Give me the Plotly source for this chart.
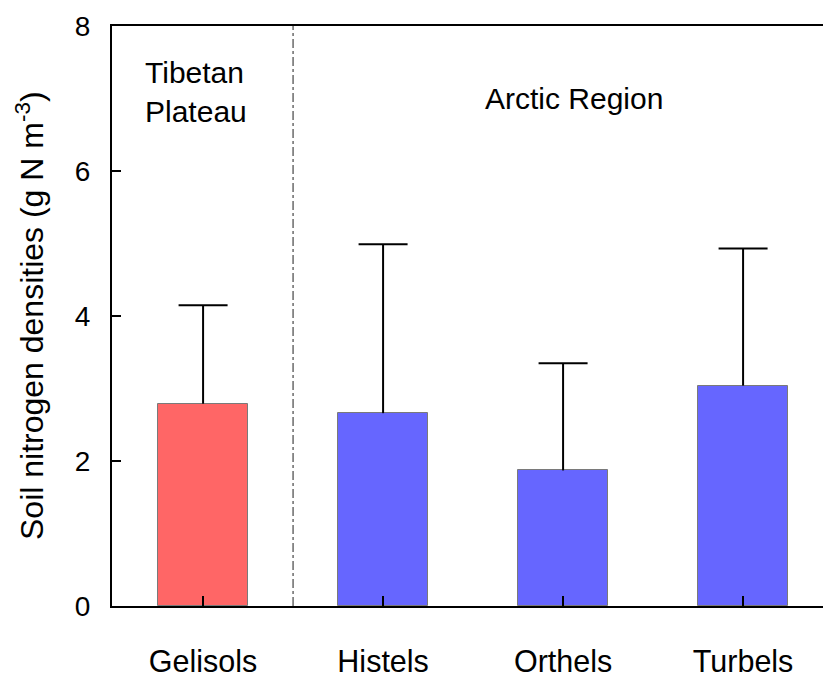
import plotly.graph_objects as go

# Soil nitrogen densities by permafrost soil order
categories = ["Gelisols", "Histels", "Orthels", "Turbels"]
means = [2.79, 2.66, 1.87, 3.04]
errors_up = [1.36, 2.33, 1.48, 1.89]
bar_colors = ["#FF6666", "#6666FF", "#6666FF", "#6666FF"]
y_ticks = [0, 2, 4, 6, 8]

positions = list(range(len(categories)))
upper = [m + e for m, e in zip(means, errors_up)]
FONT = "Arial, Liberation Sans, sans-serif"

fig = go.Figure()
# bars with an upward-only stem (no caps; the top cap is drawn separately)
fig.add_trace(go.Bar(
    x=positions,
    y=means,
    width=0.5,
    marker=dict(color=bar_colors, line=dict(color="#7a7a7a", width=1)),
    error_y=dict(
        type="data",
        symmetric=False,
        array=errors_up,
        arrayminus=[0] * len(means),
        color="black",
        thickness=2,
        width=0,
    ),
    showlegend=False,
))
# cross-bar at the top of each error bar
fig.add_trace(go.Scatter(
    x=positions,
    y=upper,
    mode="markers",
    marker=dict(symbol="line-ew-open", size=35, color="black",
                line=dict(color="black", width=2)),
    showlegend=False,
    hoverinfo="skip",
))

# separator between the two regions
fig.add_shape(
    type="line", xref="x", yref="paper",
    x0=0.5, x1=0.5, y0=0, y1=1,
    line=dict(color="#6a6a6a", width=1.5, dash="dashdot"),
)

fig.add_annotation(
    text="Tibetan<br>Plateau", xref="paper", yref="paper",
    x=(143 - 112) / 711, y=(606 - 54) / 580,
    xanchor="left", yanchor="top", align="left", showarrow=False,
    font=dict(family=FONT, size=30, color="black"),
)
fig.add_annotation(
    text="Arctic Region", xref="paper", yref="paper",
    x=(574 - 112) / 711, y=(606 - 99) / 580,
    xanchor="center", yanchor="middle", showarrow=False,
    font=dict(family=FONT, size=30, color="black"),
)
fig.add_annotation(
    text="Soil nitrogen densities (g N m<sup>-3</sup>)",
    xref="paper", yref="paper",
    x=(30 - 112) / 711, y=(606 - 316) / 580,
    xanchor="center", yanchor="middle", textangle=-90, showarrow=False,
    font=dict(family=FONT, size=32, color="black"),
)

fig.update_layout(
    width=823, height=680,
    margin=dict(l=112, r=0, t=26, b=74),
    plot_bgcolor="white", paper_bgcolor="white",
    font=dict(family=FONT, size=28, color="black"),
    bargap=0,
)
fig.update_xaxes(
    range=[-0.506, 3.444],
    tickmode="array", tickvals=positions, ticktext=categories,
    ticks="inside", ticklen=10, tickwidth=2, tickcolor="black",
    showline=True, linewidth=2, linecolor="black", mirror=True,
    showgrid=False, zeroline=False,
    ticklabelstandoff=27,
    tickfont=dict(family=FONT, size=30.5),
)
fig.update_yaxes(
    range=[0, 8],
    tickmode="array", tickvals=y_ticks,
    ticks="inside", ticklen=9, tickwidth=2, tickcolor="black",
    showline=True, linewidth=2, linecolor="black",
    showgrid=False, zeroline=False,
    ticklabelstandoff=14,
    tickfont=dict(family=FONT, size=28),
)

fig.write_html("out.html")
